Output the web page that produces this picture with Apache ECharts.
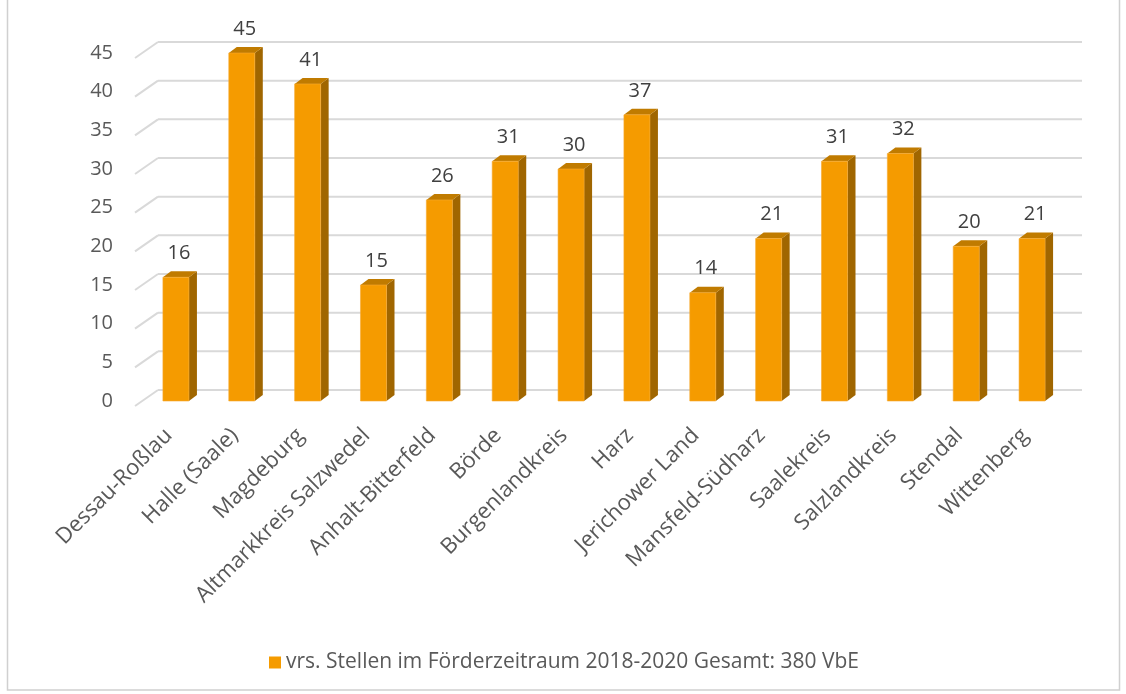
<!DOCTYPE html>
<html>
<head>
<meta charset="utf-8">
<script src="https://cdn.jsdelivr.net/npm/echarts@6/dist/echarts.min.js"></script>
<style>html,body{margin:0;padding:0;background:#fff;}#c{width:1126px;height:694px;}</style>
</head>
<body>
<div id="c"></div>
<script>
const categories = ['Dessau-Roßlau','Halle (Saale)','Magdeburg','Altmarkkreis Salzwedel','Anhalt-Bitterfeld','Börde','Burgenlandkreis','Harz','Jerichower Land','Mansfeld-Südharz','Saalekreis','Salzlandkreis','Stendal','Wittenberg'];
const values = [16,45,41,15,26,31,30,37,14,21,31,32,20,21];
const yTicks = [0,5,10,15,20,25,30,35,40,45];
const seriesName = 'vrs. Stellen im Förderzeitraum 2018-2020 Gesamt: 380 VbE';

const FONT = '"Open Sans", "Noto Sans", sans-serif';
const TXT = '#595959';
const FRONT = '#F59B00', SIDE = '#A06600', TOP = '#C07B00';

const chart = echarts.init(document.getElementById('c'));
chart.setOption({
  animation: false,
  backgroundColor: '#fff',
  textStyle: {fontFamily: FONT},
  grid: {left: 143, right: 61, top: 53, bottom: 293},
  xAxis: {
    type: 'category', data: categories,
    axisLine: {show: false}, axisTick: {show: false},
    axisLabel: {rotate: 45, margin: 24, fontSize: 22, color: TXT, fontFamily: FONT, interval: 0, padding: [0, 10, 0, 0]}
  },
  yAxis: {
    type: 'value', min: 0, max: 45, interval: 5,
    axisLine: {show: false}, axisTick: {show: false}, splitLine: {show: false},
    axisLabel: {fontSize: 20, color: TXT, fontFamily: FONT, margin: 30, padding: [8, 0, 0, 0]}
  },
  legend: {
    top: 647, left: 264, itemWidth: 12, itemHeight: 12, itemGap: 6,
    textStyle: {fontSize: 21, color: TXT, fontFamily: FONT},
    data: [{name: seriesName, icon: 'rect', itemStyle: {color: FRONT}}]
  },
  graphic: [{
    type: 'rect', shape: {x: 7.5, y: -2, width: 1112, height: 692},
    style: {fill: 'none', stroke: '#D0D0D0', lineWidth: 1.5}, silent: true
  }],
  series: [
    {
      type: 'custom', name: 'grid', silent: true, z: 1,
      data: yTicks.map(v => [0, v]),
      renderItem: function (params, api) {
        const cs = params.coordSys;
        const p = api.coord([0, api.value(1)]);
        const y = p[1];
        const style = {stroke: '#D9D9D9', lineWidth: 2};
        return {type: 'group', children: [
          {type: 'line', shape: {x1: cs.x + 15, y1: y - 11, x2: cs.x + cs.width + 17, y2: y - 11}, style: style},
          {type: 'line', shape: {x1: cs.x - 8, y1: y + 5, x2: cs.x + 15, y2: y - 11}, style: style}
        ]};
      }
    },
    {
      type: 'custom', name: seriesName, z: 3,
      itemStyle: {color: FRONT},
      data: values.map((v, i) => [i, v]),
      renderItem: function (params, api) {
        const top = api.coord([api.value(0), api.value(1)]);
        const base = api.coord([api.value(0), 0]);
        const w = api.size([1, 0])[0] * 0.395;
        const x0 = top[0] - w / 2, x1 = top[0] + w / 2;
        const dx = 8, dy = -6;
        return {type: 'group', children: [
          {type: 'polygon', shape: {points: [[x1, top[1]], [x1 + dx, top[1] + dy], [x1 + dx, base[1] + dy], [x1, base[1]]]}, style: {fill: SIDE}},
          {type: 'polygon', shape: {points: [[x0, top[1]], [x0 + dx, top[1] + dy], [x1 + dx, top[1] + dy], [x1, top[1]]]}, style: {fill: TOP}},
          {type: 'rect', shape: {x: x0, y: top[1], width: w, height: base[1] - top[1]}, style: {fill: FRONT, stroke: '#F7AA30', lineWidth: 0.6}},
          {type: 'text', x: top[0] + 3, y: top[1] - 24, style: {text: String(api.value(1)), fill: '#404040', font: '20px ' + FONT, align: 'center', verticalAlign: 'middle'}}
        ]};
      }
    }
  ]
});
</script>
</body>
</html>
